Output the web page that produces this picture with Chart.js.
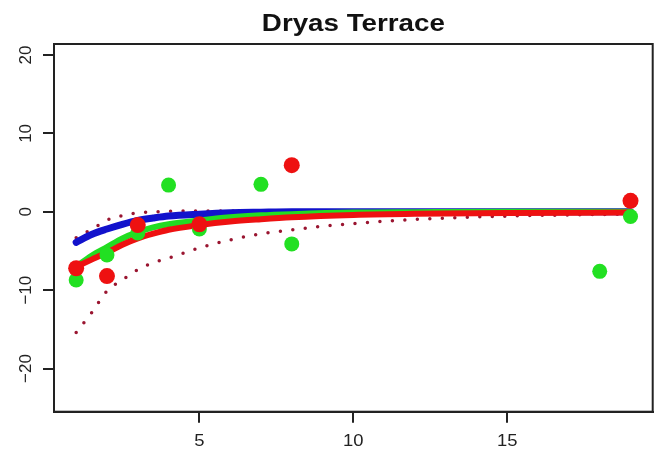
<!DOCTYPE html>
<html><head><meta charset="utf-8">
<script src="https://cdn.jsdelivr.net/npm/chart.js@4/dist/chart.umd.min.js"></script>
<style>html,body{margin:0;padding:0;background:#fff}#wrap{width:662px;height:460px;position:relative}</style>
</head><body><div id="wrap"><canvas id="c" width="662" height="460"></canvas></div>
<script>
const chartTitle = 'Dryas Terrace';
const xTicks = [5, 10, 15];
const yTicks = [-20, -10, 0, 10, 20];
const greenX = [1, 2, 3, 4, 5, 7, 8, 18, 19];
const greenY = [-8.7, -5.5, -2.7, 3.4, -2.2, 3.5, -4.1, -7.6, -0.6];
const redX = [1, 2, 3, 5, 8, 19];
const redY = [-7.2, -8.2, -1.7, -1.6, 5.95, 1.4];
const fitX = [1, 1.5, 2, 2.5, 3, 3.5, 4, 5, 6, 7, 8, 10, 12, 15, 19];
const blueFit = [-3.9, -2.9, -2.2, -1.6, -1.1, -0.8, -0.55, -0.3, -0.12, -0.05, 0, 0, 0, 0, 0];
const greenFit = [-7.0, -5.6, -4.5, -3.4, -2.6, -2.0, -1.6, -1.1, -0.7, -0.45, -0.3, -0.1, -0.05, 0, 0];
const redFit = [-7.0, -6.1, -5.2, -4.2, -3.4, -2.8, -2.3, -1.7, -1.25, -0.95, -0.7, -0.4, -0.25, -0.15, -0.1];
const upperX = [1, 1.35, 1.73, 2.08, 2.48, 2.86, 3.3, 4, 5, 7, 10, 14, 19];
const upperY = [-3.3, -2.55, -1.7, -0.93, -0.5, -0.2, -0.05, 0.05, 0.1, 0.1, 0.1, 0.1, 0.1];
const lowerX = [1, 1.5, 2, 2.5, 3, 3.5, 4, 5, 6, 7, 8, 9, 10, 11, 12, 13, 14, 15, 17, 19];
const lowerY = [-15.4, -12.9, -10.1, -8.7, -7.4, -6.5, -5.9, -4.6, -3.6, -2.8, -2.3, -1.85, -1.5, -1.2, -0.97, -0.8, -0.65, -0.55, -0.4, -0.3];

const pts = (xs, ys) => xs.map((x, i) => ({x: x, y: ys[i]}));
const DR = '#9a1530';
const AX = '#222';

const dotted = (xs, ys, ord) => ({
  data: pts(xs, ys), showLine: true, borderColor: DR, borderWidth: 3.5,
  borderDash: [0, 12.5], borderCapStyle: 'round', pointRadius: 0,
  cubicInterpolationMode: 'monotone', order: ord
});
const fitLine = (ys, col, w, ord) => ({
  data: pts(fitX, ys), showLine: true, borderColor: col, borderWidth: w,
  borderCapStyle: 'round', borderJoinStyle: 'round', pointRadius: 0,
  cubicInterpolationMode: 'monotone', order: ord
});
const pointSet = (xs, ys, col, r, ord) => ({
  data: pts(xs, ys), showLine: false, pointRadius: r, pointBackgroundColor: col,
  pointBorderColor: col, pointBorderWidth: 0, order: ord
});

const decor = {
  id: 'decor',
  afterDraw(chart) {
    const c = chart.ctx, a = chart.chartArea;
    const xs = chart.scales.x, ys = chart.scales.y;
    c.save();
    c.strokeStyle = AX; c.lineWidth = 2;
    c.strokeRect(a.left, a.top, a.right - a.left, a.bottom - a.top);
    // title
    c.fillStyle = '#111';
    c.font = 'bold 23px "Liberation Sans", Arial, sans-serif';
    c.textAlign = 'center'; c.textBaseline = 'alphabetic';
    const w = c.measureText(chartTitle).width;
    const sx = 183 / w;
    c.save();
    c.translate((a.left + a.right) / 2, 31);
    c.scale(sx, 1);
    c.fillText(chartTitle, 0, 0);
    c.restore();
    // x labels
    c.fillStyle = AX;
    c.font = '16px "Liberation Sans", Arial, sans-serif';
    c.textBaseline = 'middle';
    xTicks.forEach(v => {
      c.save();
      c.translate(xs.getPixelForValue(v), 442);
      c.scale(1.15, 1);
      c.fillText(String(v), 0, 0);
      c.restore();
    });
    // y labels rotated
    c.font = '17px "Liberation Sans", Arial, sans-serif';
    yTicks.forEach(v => {
      c.save();
      c.translate(26, ys.getPixelForValue(v));
      c.rotate(-Math.PI / 2);
      c.fillText(v < 0 ? '\u2212' + Math.abs(v) : String(v), 0, 0);
      c.restore();
    });
    c.restore();
  }
};

const axisCommon = {
  type: 'linear',
  ticks: {display: false},
  grid: {drawOnChartArea: false, drawTicks: true, tickLength: 11, tickColor: AX, tickWidth: 2, lineWidth: 2, color: AX},
  border: {display: true, color: AX, width: 2}
};

new Chart(document.getElementById('c'), {
  type: 'scatter',
  data: {datasets: [
    dotted(lowerX, lowerY, 7),
    dotted(upperX, upperY, 6),
    fitLine(blueFit, '#1212cc', 7, 5),
    fitLine(greenFit, '#22dd22', 6, 4),
    fitLine(redFit, '#ee1111', 6, 3),
    pointSet(greenX, greenY, '#22e022', 7.5, 2),
    pointSet(redX, redY, '#ee1111', 8, 1)
  ]},
  options: {
    responsive: false, animation: false, events: [],
    layout: {padding: {top: 44, right: 9.3, left: 0, bottom: 0}},
    plugins: {legend: {display: false}, tooltip: {enabled: false}, title: {display: false}},
    scales: {
      x: Object.assign({}, axisCommon, {
        min: 0.28, max: 19.72,
        afterBuildTicks: s => { s.ticks = xTicks.map(v => ({value: v})); },
        afterFit: s => { s.height = 48.3; }
      }),
      y: Object.assign({}, axisCommon, {
        min: -25.5, max: 21.4,
        afterBuildTicks: s => { s.ticks = yTicks.map(v => ({value: v})); },
        afterFit: s => { s.width = 54; }
      })
    }
  },
  plugins: [decor]
});
</script>
</body></html>
